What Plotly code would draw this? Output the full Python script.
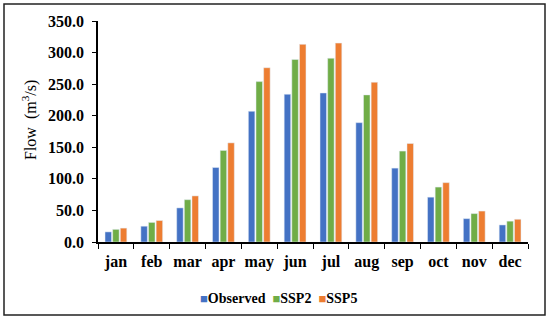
import plotly.graph_objects as go

months = ["jan", "feb", "mar", "apr", "may", "jun", "jul", "aug", "sep", "oct", "nov", "dec"]
observed = [16, 25, 54, 118, 207, 234, 236, 189, 117, 71, 37, 27]
ssp2 = [20, 31, 67, 145, 254, 289, 291, 233, 144, 87, 45, 33]
ssp5 = [22, 34, 73, 157, 276, 313, 315, 253, 156, 94, 49, 36]
y_ticks = [0, 50, 100, 150, 200, 250, 300, 350]
series_names = ["Observed", "SSP2", "SSP5"]
colors = ["#4472C4", "#70AD47", "#ED7D31"]

font = "Liberation Serif, Times New Roman, serif"

fig = go.Figure()
for name, vals, col in zip(series_names, [observed, ssp2, ssp5], colors):
    fig.add_bar(x=months, y=vals, name=name, marker_color=col, showlegend=False)

legend_text = "&nbsp;&nbsp;".join(
    f"<span style='color:{c}; font-size:13px'>■</span><b>{n}</b>" for n, c in zip(series_names, colors)
)

fig.update_layout(
    width=550, height=320,
    margin=dict(l=98, r=22, t=21, b=78),
    paper_bgcolor="white", plot_bgcolor="white",
    barmode="group", bargap=0.36, bargroupgap=0.15,
    font=dict(family=font, color="black"),
    showlegend=False,
    xaxis=dict(showline=True, linecolor="black", linewidth=1.5, ticks="outside",
               tickson="boundaries", ticklen=5, tickcolor="black", tickangle=0,
               ticklabelstandoff=4,
               tickfont=dict(size=16, family=font, weight="bold"), showgrid=False),
    yaxis=dict(range=[0, 350], tickvals=y_ticks, ticktext=[f"{v:.1f}" for v in y_ticks],
               showline=True, linecolor="black", linewidth=1.5, ticks="outside",
               ticklen=4, tickcolor="black", showgrid=False, zeroline=False,
               ticklabelstandoff=5,
               tickfont=dict(size=16, family=font, weight="bold")),
    annotations=[
        dict(text="Flow  (m<sup>3</sup>/s)", textangle=-90, xref="paper", yref="paper",
             x=-68/430, y=(242-120)/221, xanchor="center", yanchor="middle",
             showarrow=False, font=dict(size=16, family=font)),
        dict(text=legend_text, xref="paper", yref="paper",
             x=(278-98)/430, y=(242-298)/221, xanchor="center", yanchor="middle",
             showarrow=False, font=dict(size=14, family=font, color="black")),
    ],
    shapes=[dict(type="rect", xref="paper", yref="paper",
                 x0=-94/430, x1=447/430, y0=(242-315)/221, y1=(242-4)/221,
                 line=dict(color="#222222", width=1.5), fillcolor="rgba(0,0,0,0)")],
)

fig.write_html("out.html", config={"displayModeBar": False},
               post_script="document.body.style.margin='0px';")
